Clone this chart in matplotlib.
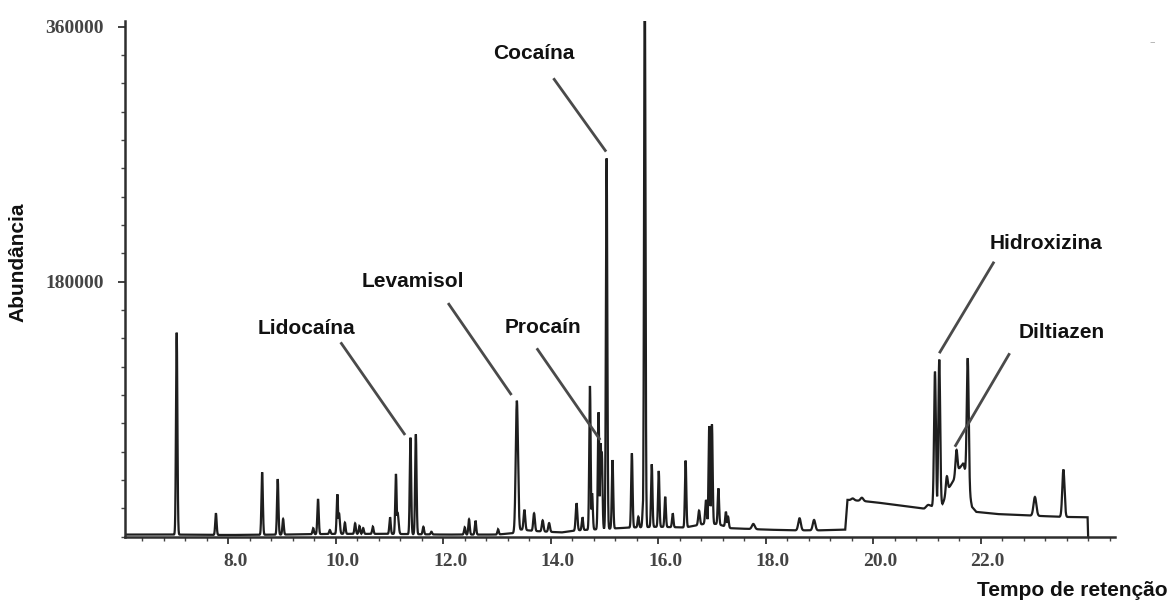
import numpy as np
import matplotlib
matplotlib.use("Agg")
import matplotlib.pyplot as plt
from matplotlib.ticker import FixedLocator, MultipleLocator, FuncFormatter
from matplotlib.transforms import ScaledTranslation

# ---------------- data ----------------
# peak retention times (min), apex abundance (absolute), peak sigma (min)
peak_time = [7.04, 7.77, 8.63, 8.92, 9.02, 9.58, 9.67, 9.89, 10.03, 10.06,
             10.17, 10.36, 10.44, 10.51, 10.69, 11.01, 11.12, 11.15, 11.39, 11.49,
             11.63, 11.78, 12.40, 12.48, 12.60, 13.02, 13.37, 13.51, 13.69, 13.85,
             13.97, 14.48, 14.59, 14.73, 14.77, 14.89, 14.93, 14.95, 15.04, 15.15,
             15.51, 15.63, 15.72, 15.75, 15.88, 16.01, 16.13, 16.27, 16.51, 16.76,
             16.89, 16.95, 17.00, 17.12, 17.26, 17.30, 17.77, 18.63, 18.90, 19.62,
             19.79, 21.02, 21.15, 21.23, 21.37, 21.55, 21.76, 23.01, 23.54]
peak_apex = [144000, 16500, 45500, 40700, 12500, 6000, 26600, 4700, 29900, 16700,
             9900, 9400, 7500, 6100, 7100, 13700, 44300, 17000, 69900, 72300,
             7000, 3500, 6600, 12300, 11300, 5200, 96000, 19000, 16500, 11500,
             9600, 23600, 13700, 106400, 30600, 87800, 66000, 60000, 267000, 54100,
             58900, 14100, 23600, 400000, 51100, 46400, 28200, 16500, 53700, 18400,
             25900, 78100, 79300, 34100, 17600, 14100, 9000, 13000, 11800, 27000,
             27500, 22400, 116500, 125000, 42600, 61200, 125900, 28000, 47400]
peak_sigma = [0.010, 0.010, 0.010, 0.010, 0.010, 0.010, 0.010, 0.010, 0.010, 0.012,
              0.010, 0.010, 0.010, 0.010, 0.010, 0.010, 0.010, 0.014, 0.010, 0.010,
              0.010, 0.010, 0.010, 0.010, 0.010, 0.010, 0.016, 0.012, 0.012, 0.012,
              0.012, 0.012, 0.010, 0.010, 0.010, 0.010, 0.010, 0.010, 0.010, 0.010,
              0.010, 0.010, 0.010, 0.010, 0.010, 0.010, 0.010, 0.010, 0.010, 0.012,
              0.012, 0.010, 0.010, 0.010, 0.010, 0.010, 0.020, 0.018, 0.018, 0.020,
              0.020, 0.025, 0.013, 0.013, 0.014, 0.014, 0.014, 0.020, 0.016]

# baseline (time, abundance)
base_time = [6.08, 7.0, 8.0, 9.0, 10.0, 11.0, 12.0, 13.0, 13.3, 13.45, 13.7, 14.2,
             14.5, 15.0, 15.5, 16.0, 16.5, 16.85, 17.1, 17.35, 18.0, 18.5, 19.0,
             19.48, 19.52, 19.7, 20.0, 20.5, 20.95, 21.08, 21.29, 21.42, 21.5, 21.6,
             21.68, 21.84, 21.92, 22.3, 23.0, 23.5, 23.99, 24.0]
base_level = [1500, 1500, 1200, 1500, 2000, 2000, 1500, 1500, 2500, 5000, 4000, 3000,
              4500, 5500, 6500, 7000, 6500, 9000, 9000, 6000, 5000, 4500, 4500,
              5000, 26000, 25500, 24500, 22000, 19800, 21500, 23000, 35000, 40000, 48000,
              52000, 21000, 17500, 16000, 14800, 14000, 13700, 0]

x_ticks = [8.0, 10.0, 12.0, 14.0, 16.0, 18.0, 20.0, 22.0]
y_ticks = [180000, 360000]

labels = ["Cocaína", "Lidocaína", "Levamisol", "Procaín", "Hidroxizina", "Diltiazen"]
label_pos = [(13.69, 340900), (9.46, 147300), (11.44, 179800), (13.86, 148000),
             (23.21, 206600), (23.50, 143800)]
leader_start = [(14.05, 323600), (10.09, 137200), (12.09, 164900), (13.74, 133000),
                (22.25, 194100), (22.54, 129500)]
leader_end = [(15.03, 271800), (11.29, 71800), (13.27, 100000), (14.92, 68300),
              (21.23, 129500), (21.52, 63500)]

# ---------------- build trace ----------------
width_scale = 1.3
t = np.arange(base_time[0], base_time[-1] + 1e-9, 0.002)
base = np.interp(t, base_time, base_level)
peak_part = np.zeros_like(t)
for pt, pa, ps in zip(peak_time, peak_apex, peak_sigma):
    amp = pa - np.interp(pt, base_time, base_level)
    s = ps * width_scale
    peak_part = np.maximum(peak_part, amp * np.exp(-0.5 * ((t - pt) / s) ** 2))
trace = base + peak_part

# ---------------- figure ----------------
W, H, DPI = 1171, 606, 100
fig = plt.figure(figsize=(W / DPI, H / DPI), dpi=DPI)
ax_left, ax_right, ax_bottom, ax_top = 125, 1115, 536.7, 21
ax = fig.add_axes([ax_left / W, 1 - ax_bottom / H,
                   (ax_right - ax_left) / W, (ax_bottom - ax_top) / H])

ax.plot(t, trace, color="#1e1e1e", lw=1.6, solid_joinstyle="miter")
ax.set_xlim(6.078, 24.50)
ax.set_ylim(0, 364000)

for s in ["top", "right"]:
    ax.spines[s].set_visible(False)
for s in ["left", "bottom"]:
    ax.spines[s].set_color("#2e2e2e")
    ax.spines[s].set_linewidth(1.8)

tick_font = dict(family="Liberation Serif", weight="bold", size=14)
ax.xaxis.set_major_locator(FixedLocator(x_ticks))
ax.xaxis.set_minor_locator(MultipleLocator(0.4))
ax.xaxis.set_major_formatter(FuncFormatter(lambda v, p: f"{v:.1f}"))
ax.yaxis.set_major_locator(FixedLocator(y_ticks))
ax.yaxis.set_minor_locator(MultipleLocator(20000))
ax.yaxis.set_major_formatter(FuncFormatter(lambda v, p: f"{int(v)}"))
ax.tick_params(axis="both", which="major", direction="out", length=5, width=1.3,
               color="#333333", labelcolor="#444444")
ax.tick_params(axis="both", which="minor", direction="out", length=3, width=1.0,
               color="#444444")
ax.tick_params(axis="x", which="major", pad=7)
ax.tick_params(axis="y", which="major", pad=10)
for lab in ax.get_xticklabels() + ax.get_yticklabels():
    lab.set_fontfamily(tick_font["family"])
    lab.set_fontweight(tick_font["weight"])
    lab.set_fontsize(tick_font["size"])
offset = ScaledTranslation(7 / DPI, 0, fig.dpi_scale_trans)
for lab in ax.get_xticklabels():
    lab.set_transform(lab.get_transform() + offset)

ann_font = dict(family="Liberation Sans", weight="bold", size=15, color="#111111")
for name, (tx, ty), (sx, sy), (ex, ey) in zip(labels, label_pos, leader_start, leader_end):
    ax.text(tx, ty, name, ha="center", va="center", **ann_font)
    ax.plot([sx, ex], [sy, ey], color="#4a4a4a", lw=2.0, solid_capstyle="butt")

fig.text(18 / W, 1 - 262 / H, "Abundância", rotation=90, ha="center", va="center", **ann_font)
fig.text(1072 / W, 1 - 590 / H, "Tempo de retenção", ha="center", va="center", **ann_font)
fig.text(1152 / W, 1 - 42 / H, "–", ha="center", va="center", color="#aaaaaa", fontsize=8)

fig.savefig("out.png", dpi=DPI)
